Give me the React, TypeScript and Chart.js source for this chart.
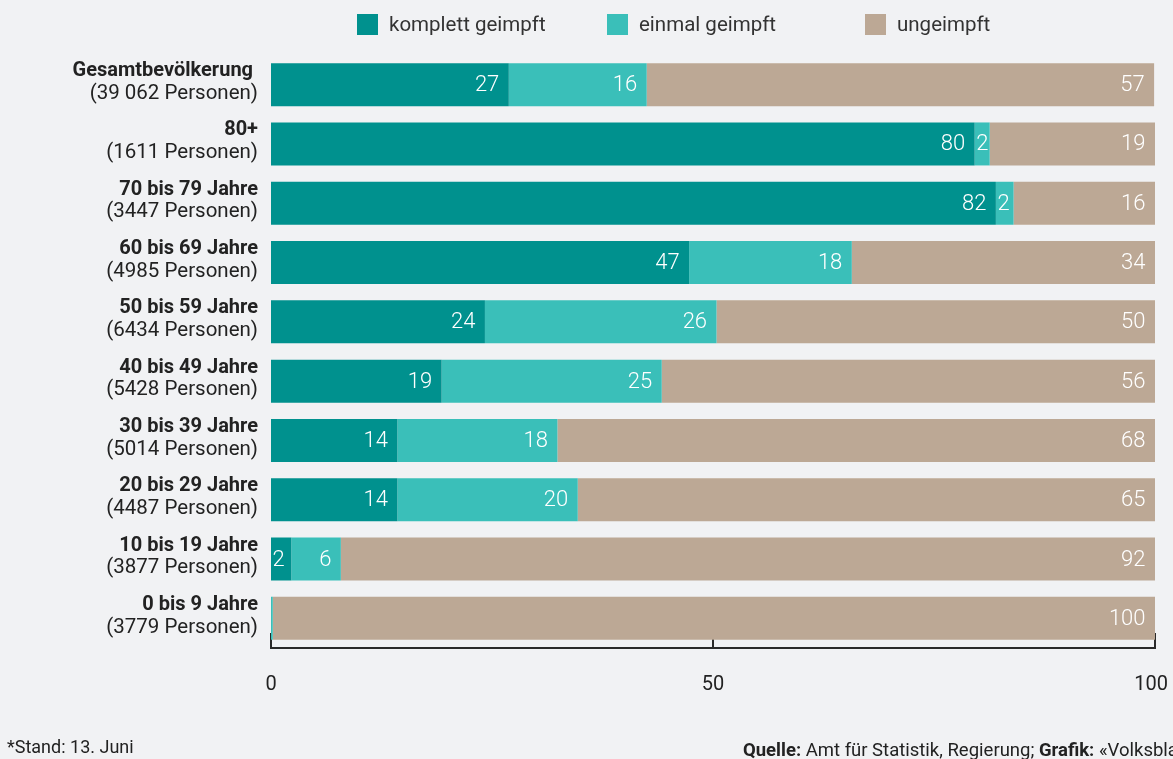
import React, { useEffect, useRef } from 'react';
import { Chart, registerables } from 'chart.js';

Chart.register(...registerables);

const categories = [
  'Gesamtbevölkerung ',
  '80+',
  '70 bis 79 Jahre',
  '60 bis 69 Jahre',
  '50 bis 59 Jahre',
  '40 bis 49 Jahre',
  '30 bis 39 Jahre',
  '20 bis 29 Jahre',
  '10 bis 19 Jahre',
  '0 bis 9 Jahre',
];
const persons = [
  '(39 062 Personen)',
  '(1611 Personen)',
  '(3447 Personen)',
  '(4985 Personen)',
  '(6434 Personen)',
  '(5428 Personen)',
  '(5014 Personen)',
  '(4487 Personen)',
  '(3877 Personen)',
  '(3779 Personen)',
];
// percentages; labels show rounded values
const komplett = [26.9, 79.6, 82.0, 47.3, 24.2, 19.3, 14.3, 14.3, 2.3, 0];
const einmal = [15.6, 1.7, 2.0, 18.4, 26.2, 24.9, 18.1, 20.4, 5.6, 0.2];
const ungeimpft = [57.4, 18.7, 16.0, 34.3, 49.6, 55.8, 67.6, 65.3, 92.1, 99.8];
const seriesNames = ['komplett geimpft', 'einmal geimpft', 'ungeimpft'];
const seriesColors = ['#00918e', '#3abfb9', '#bca895'];
const xTicks = [0, 50, 100];
const legendLefts = [357, 607, 865];

const FONT = 'Roboto, "Noto Sans", sans-serif';
const TEXT = '#222222';

const customPlugin = {
  id: 'customDraw',
  beforeDatasetsDraw(chart: any) {
    const { ctx, chartArea, scales, width } = chart;
    const xs = scales.x;
    ctx.save();
    ctx.strokeStyle = '#2a2a2a';
    ctx.lineWidth = 2;
    ctx.beginPath();
    ctx.moveTo(chartArea.left - 1, chartArea.bottom);
    ctx.lineTo(chartArea.right + 1, chartArea.bottom);
    ctx.stroke();
    ctx.font = `20px ${FONT}`;
    ctx.fillStyle = TEXT;
    ctx.textAlign = 'center';
    ctx.textBaseline = 'alphabetic';
    xTicks.forEach((v) => {
      const px = Math.round(xs.getPixelForValue(v));
      ctx.beginPath();
      ctx.moveTo(px, chartArea.bottom);
      ctx.lineTo(px, chartArea.bottom - 15);
      ctx.stroke();
      const txt = String(v);
      const w = ctx.measureText(txt).width;
      const cx = Math.min(px, width - 5 - w / 2);
      ctx.fillText(txt, cx, chartArea.bottom + 42);
    });
    ctx.restore();
  },
  afterDatasetsDraw(chart: any) {
    const { ctx, chartArea } = chart;
    ctx.save();
    ctx.font = `300 22px ${FONT}`;
    ctx.fillStyle = '#ffffff';
    ctx.textAlign = 'right';
    ctx.textBaseline = 'alphabetic';
    chart.data.datasets.forEach((ds: any, di: number) => {
      const meta = chart.getDatasetMeta(di);
      meta.data.forEach((el: any, i: number) => {
        const v = Math.round(ds.data[i]);
        if (v < 1) return;
        const { x, y, base } = el.getProps(['x', 'y', 'base'], true);
        const right = Math.min(x, chartArea.right);
        const txt = String(v);
        const w = ctx.measureText(txt).width;
        let tx = right - 9.5;
        if (tx - w < base + 1.5) tx = base + 1.5 + w;
        ctx.fillText(txt, tx, y + 6.5);
      });
    });
    const ys = chart.scales.y;
    ctx.fillStyle = TEXT;
    categories.forEach((c, i) => {
      const cy = ys.getPixelForValue(i);
      ctx.font = `bold 20px ${FONT}`;
      ctx.fillText(c, 258, cy - 8.5);
      ctx.font = `20.5px ${FONT}`;
      ctx.fillText(persons[i], 258, cy + 14.2);
    });
    ctx.restore();
  },
};

export default function App() {
  const ref = useRef<HTMLCanvasElement>(null);

  useEffect(() => {
    const chart = new Chart(ref.current as HTMLCanvasElement, {
      type: 'bar',
      data: {
        labels: categories,
        datasets: [
          { label: seriesNames[0], data: komplett, backgroundColor: seriesColors[0] },
          { label: seriesNames[1], data: einmal, backgroundColor: seriesColors[1] },
          { label: seriesNames[2], data: ungeimpft, backgroundColor: seriesColors[2] },
        ],
      },
      options: {
        indexAxis: 'y',
        responsive: false,
        animation: false,
        layout: { padding: { top: 55, right: 18, left: 271, bottom: 0 } },
        datasets: { bar: { categoryPercentage: 1, barPercentage: 0.725 } },
        plugins: { legend: { display: false }, tooltip: { enabled: false } },
        scales: {
          x: {
            stacked: true,
            min: 0,
            max: 100,
            grid: { display: false, drawTicks: false },
            border: { display: false },
            ticks: { display: false, stepSize: 50 },
            afterFit: (s: any) => {
              s.height = 111;
              s.paddingLeft = 0;
              s.paddingRight = 0;
            },
          },
          y: { stacked: true, display: false },
        },
      } as any,
      plugins: [customPlugin],
    });
    return () => chart.destroy();
  }, []);

  return (
    <div
      style={{
        position: 'fixed',
        left: 0,
        top: 0,
        width: 1173,
        height: 759,
        background: '#f1f2f4',
        overflow: 'hidden',
        fontFamily: FONT,
        color: TEXT,
      }}
    >
      <canvas ref={ref} width={1173} height={759} style={{ position: 'absolute', left: 0, top: 0 }} />
      {seriesNames.map((n, i) => (
        <div
          key={n}
          style={{
            position: 'absolute',
            left: legendLefts[i],
            top: 14,
            height: 21,
            display: 'flex',
            alignItems: 'center',
            whiteSpace: 'nowrap',
          }}
        >
          <span style={{ display: 'inline-block', width: 21, height: 21, background: seriesColors[i] }} />
          <span style={{ marginLeft: 11, fontSize: 20.5, lineHeight: '21px', color: '#333' }}>{n}</span>
        </div>
      ))}
      <div
        style={{
          position: 'absolute',
          left: 7,
          top: 737,
          fontSize: 18,
          lineHeight: '20px',
          whiteSpace: 'nowrap',
        }}
      >
        *Stand: 13. Juni
      </div>
      <div
        style={{
          position: 'absolute',
          left: 743,
          top: 740,
          fontSize: 18.5,
          lineHeight: '20px',
          whiteSpace: 'nowrap',
        }}
      >
        <b>Quelle:</b> Amt für Statistik, Regierung; <b>Grafik:</b> «Volksblatt»
      </div>
    </div>
  );
}
